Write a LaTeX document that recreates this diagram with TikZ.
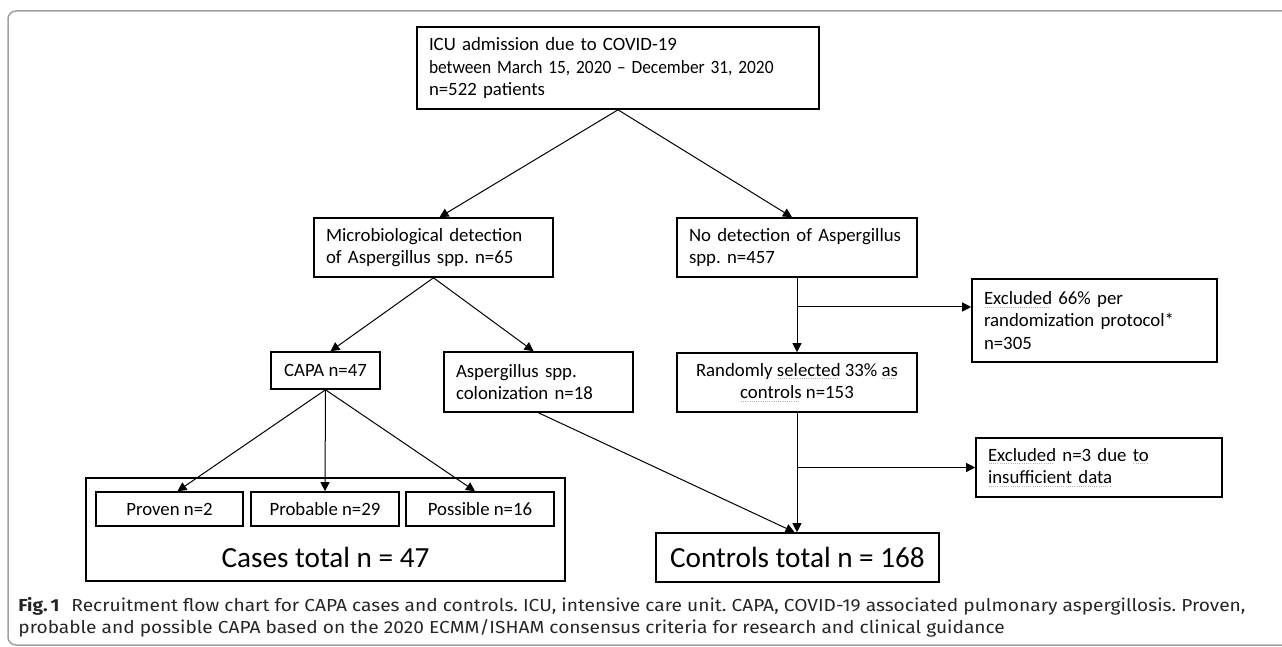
\documentclass[tikz,border=0pt]{standalone}
\usepackage{fontspec}
\usetikzlibrary{arrows.meta}
\newfontfamily\boxfont{Carlito}
\newfontfamily\capfont[FakeStretch=1.1]{Fira Sans}
\newsavebox\spellbox
\newcommand\spellu[1]{\leavevmode\sbox\spellbox{#1}\rlap{\textcolor{gray!60}{\raisebox{-1.6pt}{\hbox to \wd\spellbox{\leaders\hbox to 1.1pt{\hss\rule{0.55pt}{0.45pt}\hss}\hfill}}}}\usebox\spellbox}
\frenchspacing
\hyphenpenalty=10000

\begin{document}
\begin{tikzpicture}[x=0.5pt,y=-0.5pt,
    box/.style={draw, line width=0.8pt, inner xsep=6pt, inner ysep=0pt,
      font=\boxfont\fontsize{9.4}{11.3}\selectfont},
    lbox/.style={box, align=left, text width=#1},
    cbox/.style={box, align=center, minimum width=#1},
    bigbox/.style={draw, line width=0.8pt, inner sep=0pt,
      font=\boxfont\fontsize{14.6}{17}\selectfont},
    conn/.style={line width=0.5pt, -{Triangle[length=4.5pt,width=4.5pt]}}]
        \clip (0,0) rectangle (1282,647);
        % outer frame of the figure
        \draw[gray!75, line width=0.75pt, rounded corners=4pt] (8,11) rectangle (1320,645);

        % top
        \node[lbox=189pt, inner xsep=6pt, minimum height=41pt] (top) at (618,68)
            {ICU admission due to COVID-19\\\scalebox{0.925}[1]{between March 15, 2020 \textendash{} December 31, 2020}\\n=522 patients};

        % second row
        \node[lbox=107.5pt, minimum height=29.5pt] (micro) at (433.5,247.5)
            {Microbiological detection\\of Aspergillus spp. n=65};
        \node[lbox=108pt, minimum height=29.5pt] (nodet) at (797,247.5)
            {No detection of Aspergillus\\spp. n=457};
        \node[lbox=110.5pt, minimum height=41.5pt] (excl1) at (1094.5,320.5)
            {\spellu{Excluded} 66\% per\\randomization protocol*\\n=305};

        % third row
        \node[cbox=54.5pt, minimum height=18.5pt] (capa) at (325.5,370.5) {CAPA n=47};
        \node[lbox=82.5pt, minimum height=30pt] (colon) at (538.5,382)
            {Aspergillus spp.\\colonization n=18};
        \node[cbox=120pt, minimum height=29.5pt] (rand) at (797,382.5)
            {Randomly \spellu{selected} 33\% \spellu{as}\\\spellu{controls} n=153};
        \node[lbox=111pt, minimum height=29.5pt] (excl2) at (1099,467.5)
            {\spellu{Excluded} n=3 due \spellu{to}\\\spellu{insufficient data}};

        % cases
        \node[bigbox, minimum width=239.5pt, minimum height=51.5pt] (cases) at (325.5,529.5) {};
        \node[cbox=73.5pt, minimum height=17pt] (proven) at (169.5,509) {Proven n=2};
        \node[cbox=74pt, minimum height=17pt] (probable) at (325,509) {Probable n=29};
        \node[cbox=74pt, minimum height=17pt] (possible) at (480,509) {Possible n=16};
        \node[font=\boxfont\fontsize{14.6}{17}\selectfont, inner sep=0pt] (casestot) at (325.5,557) {Cases total n = 47};

        % controls
        \node[bigbox, minimum width=141.5pt, minimum height=24.5pt] (controls) at (797.5,557.5) {Controls total n = 168};

        % connectors
        \draw[conn] (top.south) -- ([xshift=3pt]micro.north);
        \draw[conn] (top.south) -- ([xshift=-2.5pt]nodet.north);
        \draw[conn] (micro.south) -- ([xshift=2.5pt]capa.north);
        \draw[conn] (micro.south) -- ([xshift=-2.5pt]colon.north);
        \draw[conn] (capa.south) -- ([xshift=4pt]proven.north);
        \draw[conn] (capa.south) -- (probable.north);
        \draw[conn] (capa.south) -- ([xshift=-2.5pt]possible.north);
        \draw[conn] (nodet.south) -- (rand.north);
        \coordinate (br1) at (797,307);
        \draw[conn] (br1) -- (br1 -| excl1.west);
        \draw[conn] (rand.south) -- (rand.south |- controls.north);
        \coordinate (br2) at (rand.south |- excl2.west);
        \draw[conn] (br2) -- (excl2.west);
        \draw[conn] (colon.south) -- ([xshift=-1.5pt]controls.north);

        % caption
        \node[anchor=north west, inner sep=0pt, align=left, text=black!85,
            font=\capfont\fontsize{8.7}{10.8}\selectfont] (caption) at (18,597)
            {\textbf{Fig.\,1}\hspace{6pt}Recruitment flow chart for CAPA cases and controls. ICU, intensive care unit. CAPA, COVID-19 associated pulmonary aspergillosis. Proven,\\probable and possible CAPA based on the 2020 ECMM/ISHAM consensus criteria for research and clinical guidance};
\end{tikzpicture}
\end{document}
